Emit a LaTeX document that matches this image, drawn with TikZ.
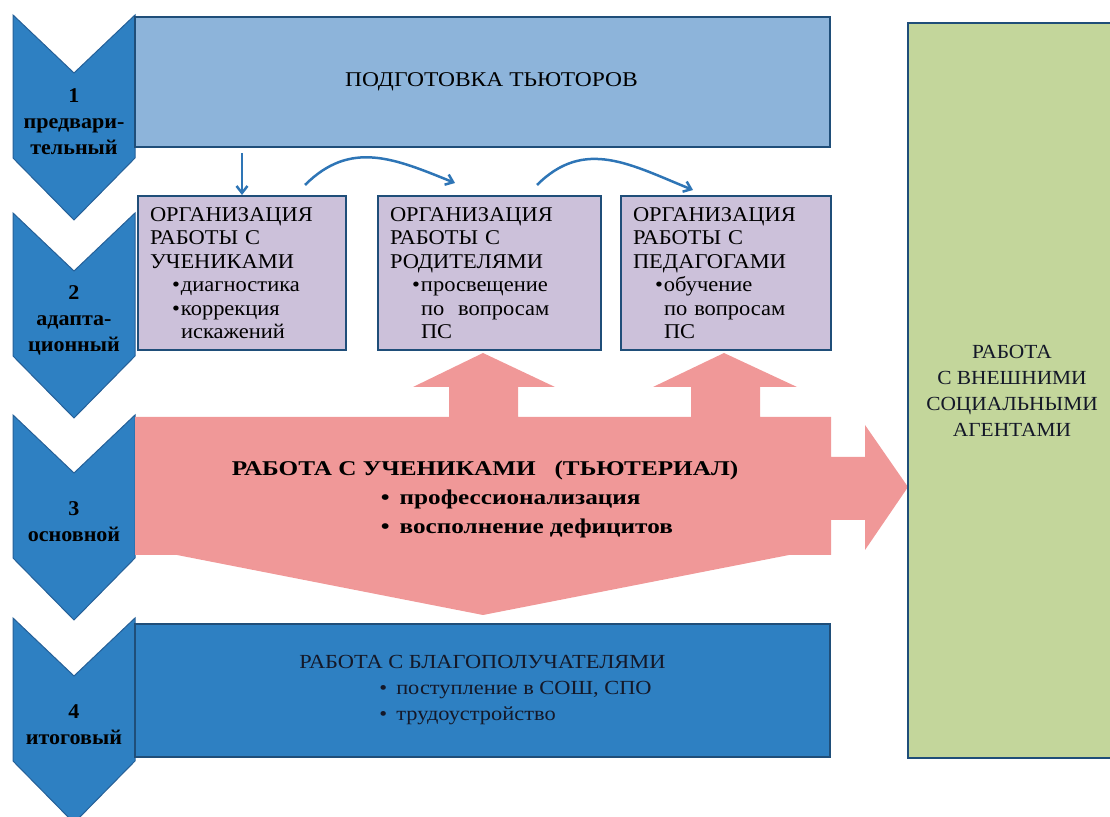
\documentclass[tikz,border=0pt]{standalone}
\usepackage{fontspec}
\setmainfont{Liberation Serif}
\newfontfamily\stagefont[FakeStretch=1.05]{Liberation Serif}
\newfontfamily\orgfont[FakeStretch=1.07]{Liberation Serif}
\newfontfamily\plainfont[FakeStretch=1.12]{Liberation Serif}
\newfontfamily\workfont[FakeStretch=1.2]{Liberation Serif}
\usetikzlibrary{arrows.meta}

\definecolor{stageblue}{RGB}{46,128,194}
\definecolor{stageedge}{RGB}{37,96,152}
\definecolor{boxedge}{RGB}{31,78,121}
\definecolor{tutorblue}{RGB}{141,180,218}
\definecolor{orglilac}{RGB}{204,193,218}
\definecolor{workred}{RGB}{240,152,152}
\definecolor{agentgreen}{RGB}{195,214,155}
\definecolor{linkblue}{RGB}{46,117,182}
\definecolor{inkdark}{RGB}{20,24,40}

\tikzset{
  stage/.style={fill=stageblue, draw=stageedge, line width=1pt},
  stagetext/.style={font=\stagefont\bfseries\fontsize{21}{26}\selectfont, align=center, inner sep=0pt},
  orgbox/.style={draw=boxedge, line width=2pt, fill=orglilac, anchor=north west,
    minimum height=154pt, inner xsep=12pt, align=left, font=\orgfont\fontsize{21}{23.5}\selectfont},
  widebox/.style={draw=boxedge, line width=2pt, minimum width=695pt},
  link/.style={linkblue, line width=2.5pt, -{Straight Barb[length=7pt,width=11pt]}}
}
\newcommand{\orgitem}[1]{\hspace*{22pt}\makebox[9pt][l]{\textbullet}#1}
\newcommand{\orgcont}[1]{\hspace*{31pt}#1}

\begin{document}
\begin{tikzpicture}[x=1pt,y=1pt]
\useasboundingbox (0,0) rectangle (1110,816);

	% stages on the left
	\foreach \t/\lab [count=\i] in {801/{1\\предвари-\\тельный}, 603/{2\\адапта-\\ционный}, 401/{3\\основной}, 198/{4\\итоговый}}{
	  \draw[stage] (13,\t) -- (74,\t-58) -- (135,\t) -- (135,\t-143) -- (74,\t-205) -- (13,\t-143) -- cycle;
	  \node[stagetext] (stage\i) at (74,\t-107) {\lab};
	}

	\node[widebox, fill=tutorblue, minimum height=130pt, font=\plainfont\fontsize{21}{24}\selectfont] (tutors) at (482.5,734) {\hspace*{18pt}ПОДГОТОВКА ТЬЮТОРОВ};

	\node[orgbox, text width=184pt] (pupils) at (137,621) {ОРГАНИЗАЦИЯ\\РАБОТЫ С\\УЧЕНИКАМИ\\\orgitem{диагностика}\\\orgitem{коррекция}\\\orgcont{искажений}};
	\node[orgbox, text width=199pt] (parents) at (377,621) {ОРГАНИЗАЦИЯ\\РАБОТЫ С\\РОДИТЕЛЯМИ\\\orgitem{просвещение}\\\orgcont{по\ \ вопросам}\\\orgcont{ПС}};
	\node[orgbox, text width=186pt] (teachers) at (620,621) {ОРГАНИЗАЦИЯ\\РАБОТЫ С\\ПЕДАГОГАМИ\\\orgitem{обучение}\\\orgcont{по вопросам}\\\orgcont{ПС}};

	% big arrow
	\fill[workred] (135,399) -- (449,399) -- (449,429) -- (413,429) -- (483,463) -- (555,429) -- (518,429) -- (518,399)
	  -- (691,399) -- (691,429) -- (653,429) -- (724,463) -- (797,429) -- (760,429) -- (760,399)
	  -- (831,399) -- (831,359) -- (865,359) -- (865,391) -- (908,329) -- (865,266) -- (865,296) -- (831,296)
	  -- (831,261) -- (789,261) -- (483,201) -- (177,261) -- (135,261) -- cycle;
	\node[font=\workfont\bfseries\fontsize{21}{29}\selectfont, align=left, inner sep=0pt] (tutorial) at (485,317)
	  {РАБОТА С УЧЕНИКАМИ\ \ \ (ТЬЮТЕРИАЛ)\\\hspace*{149pt}\textbullet\hspace{10pt}профессионализация\\\hspace*{149pt}\textbullet\hspace{10pt}восполнение дефицитов};

	\node[widebox, fill=stageblue, minimum height=133pt, align=left, text=inkdark, font=\plainfont\fontsize{20}{26}\selectfont] (recipients) at (482.5,125.5)
	  {РАБОТА С БЛАГОПОЛУЧАТЕЛЯМИ\\\hspace*{80pt}\textbullet\hspace{9pt}поступление в СОШ, СПО\\\hspace*{80pt}\textbullet\hspace{9pt}трудоустройство};

	\node[draw=boxedge, line width=2pt, fill=agentgreen, minimum width=208pt, minimum height=735pt, align=center, text=inkdark, font=\orgfont\fontsize{20}{26}\selectfont] (agents) at (1012,425)
	  {РАБОТА\\С ВНЕШНИМИ\\СОЦИАЛЬНЫМИ\\АГЕНТАМИ};

	\draw[link] ([yshift=-5pt]tutors.south -| pupils.north) -- (pupils.north);
	\draw[link] ([shift={(-42,10)}]pupils.north east) to[out=45,in=158,looseness=1.1] ([shift={(78,12)}]parents.north west);
	\draw[link] ([shift={(-65,10)}]parents.north east) to[out=45,in=158,looseness=1.1] ([shift={(73,5)}]teachers.north west);

\end{tikzpicture}
\end{document}
